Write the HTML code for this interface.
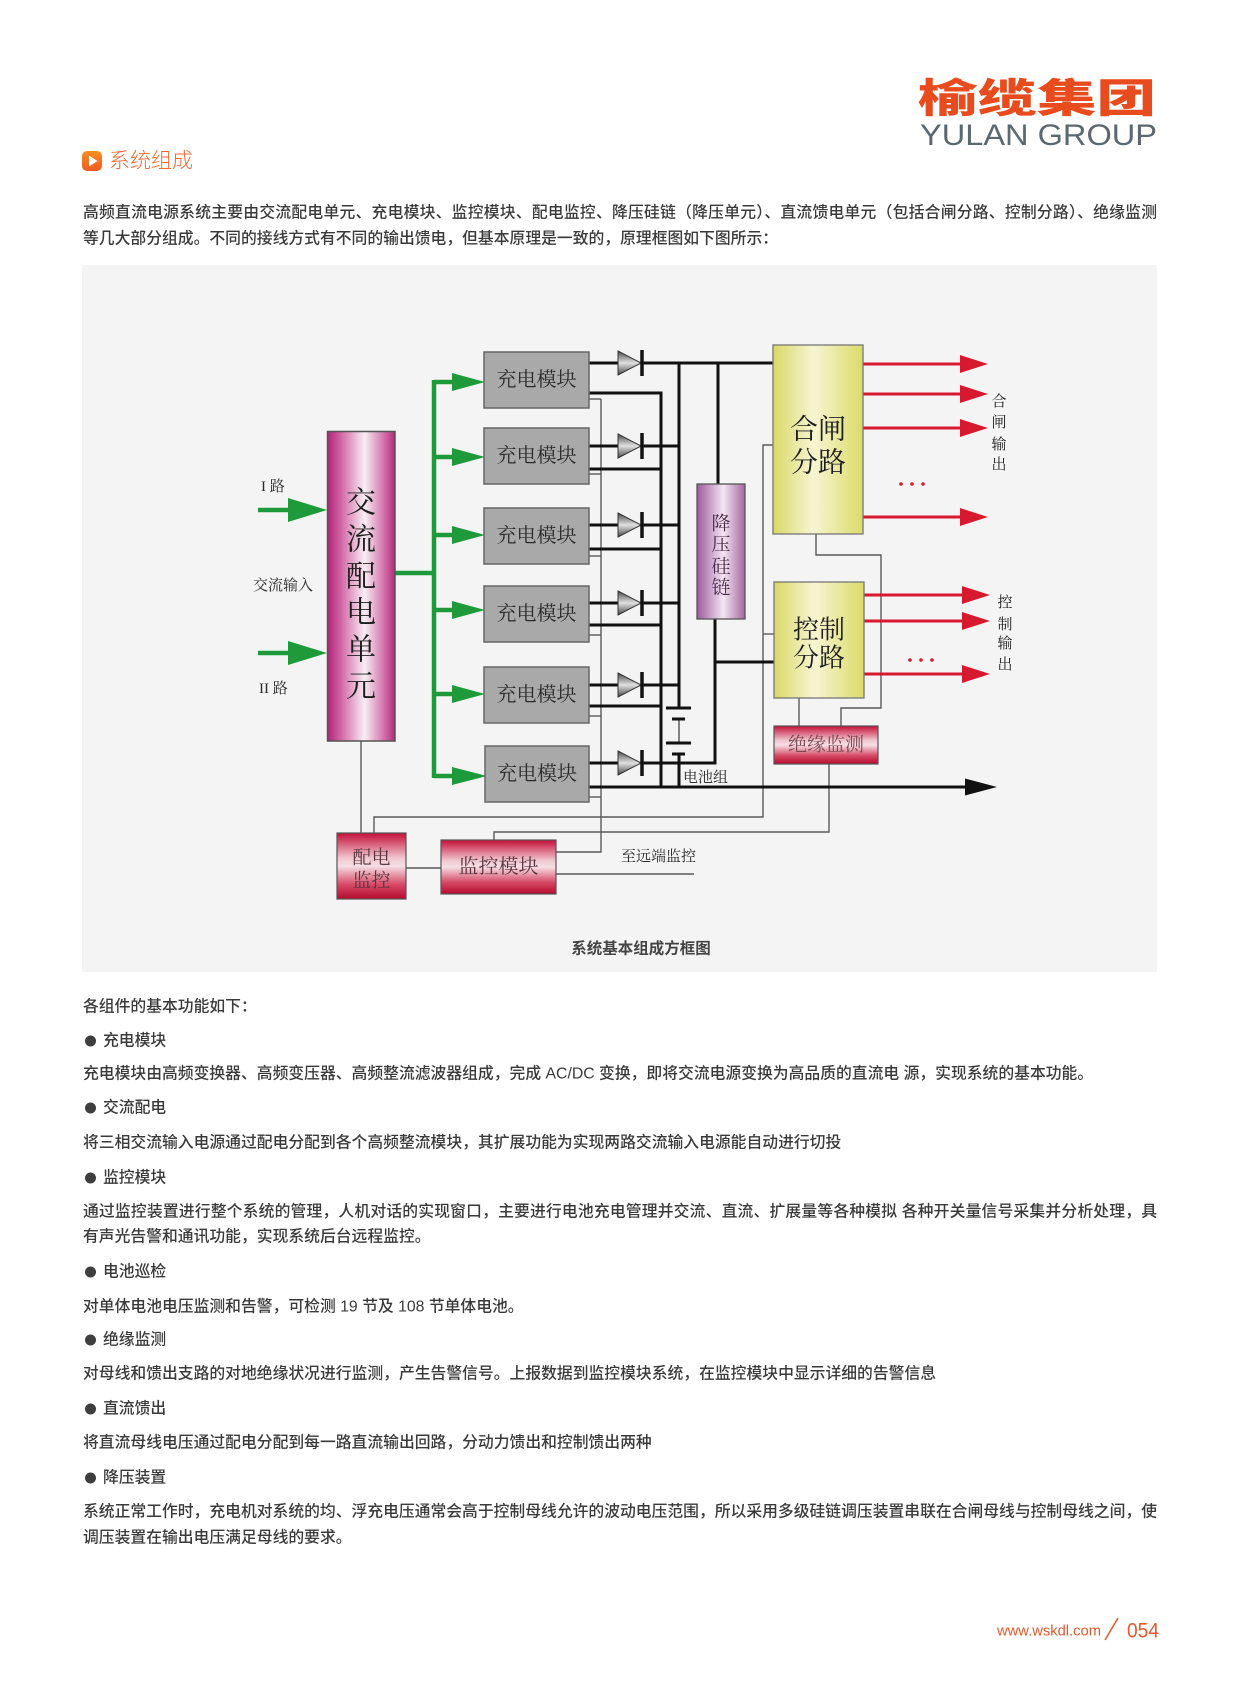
<!DOCTYPE html>
<html><head><meta charset="utf-8">
<style>
html,body{margin:0;padding:0;background:#fff;}
body{width:1241px;height:1684px;overflow:hidden;}
svg{display:block;}
.sans{font-family:"Liberation Sans","Noto Sans CJK SC",sans-serif;}
.serif{font-family:"Liberation Serif","Noto Serif CJK SC",serif;}
.body{font-family:"Liberation Sans","Noto Sans CJK SC",sans-serif;font-size:15.8px;fill:#3a3a3a;font-weight:500;}
</style></head>
<body>
<svg width="1241" height="1684" viewBox="0 0 1241 1684" xmlns="http://www.w3.org/2000/svg">
<defs>
  <linearGradient id="acG" x1="0" y1="0" x2="1" y2="0">
    <stop offset="0" stop-color="#b0257a"/>
    <stop offset="0.18" stop-color="#cf5ea0"/>
    <stop offset="0.55" stop-color="#f8eef4"/>
    <stop offset="0.85" stop-color="#d16aa6"/>
    <stop offset="1" stop-color="#b22b7c"/>
  </linearGradient>
  <linearGradient id="jyG" x1="0" y1="0" x2="1" y2="0">
    <stop offset="0" stop-color="#9c5a9c"/>
    <stop offset="0.55" stop-color="#f3e6f2"/>
    <stop offset="1" stop-color="#a5649f"/>
  </linearGradient>
  <linearGradient id="yG" x1="0" y1="0" x2="1" y2="0">
    <stop offset="0" stop-color="#d9d866"/>
    <stop offset="0.45" stop-color="#f7f5d2"/>
    <stop offset="1" stop-color="#dcdb68"/>
  </linearGradient>
  <linearGradient id="rG" x1="0" y1="0" x2="0" y2="1">
    <stop offset="0" stop-color="#c40f38"/>
    <stop offset="0.38" stop-color="#f1c6cf"/>
    <stop offset="0.5" stop-color="#f5dfe4"/>
    <stop offset="0.78" stop-color="#d64a66"/>
    <stop offset="1" stop-color="#b60a2e"/>
  </linearGradient>
  <linearGradient id="dG" x1="0" y1="0" x2="0" y2="1">
    <stop offset="0" stop-color="#4a4a4a"/>
    <stop offset="0.5" stop-color="#e0e0e0"/>
    <stop offset="1" stop-color="#4a4a4a"/>
  </linearGradient>
  <linearGradient id="oG" x1="0" y1="0" x2="0" y2="1">
    <stop offset="0" stop-color="#f8901e"/>
    <stop offset="1" stop-color="#ee5a24"/>
  </linearGradient>
</defs>

<rect width="1241" height="1684" fill="#ffffff"/>

<!-- Logo -->
<text class="sans" x="918" y="99" font-size="40" font-weight="900" fill="#e84c1e" dominant-baseline="central" textLength="238" lengthAdjust="spacingAndGlyphs">榆缆集团</text>
<text class="sans" x="920" y="145" font-size="30" fill="#5b6870" textLength="237" lengthAdjust="spacingAndGlyphs">YULAN GROUP</text>

<!-- Heading -->
<rect x="82" y="151" width="20" height="20" rx="5" fill="url(#oG)"/>
<polygon points="89,155.5 97.5,161 89,166.5" fill="#fff"/>
<text class="sans" x="109" y="161" font-size="21" font-weight="300" fill="#ef6a33" dominant-baseline="central">系统组成</text>

<!-- Intro paragraph -->
<text class="body" x="83" y="213" dominant-baseline="central" textLength="1074" lengthAdjust="spacing">高频直流电源系统主要由交流配电单元、充电模块、监控模块、配电监控、降压硅链（降压单元）、直流馈电单元（包括合闸分路、控制分路）、绝缘监测</text>
<text class="body" x="83" y="239" dominant-baseline="central">等几大部分组成。不同的接线方式有不同的输出馈电，但基本原理是一致的，原理框图如下图所示：</text>

<!-- Diagram background -->
<rect x="82" y="265" width="1075" height="707" fill="#f4f4f4"/>

<!-- ===== Gray thin lines ===== -->
<g stroke="#5a5a5a" stroke-width="1.4" fill="none">
  <polyline points="589,399 601,399"/>
  <polyline points="589,474 601,474"/>
  <polyline points="589,556 601,556"/>
  <polyline points="589,635 601,635"/>
  <polyline points="589,716 601,716"/>
  <polyline points="589,797 601,797"/>
  <polyline points="601,399 601,852 556,852"/>
  <polyline points="816,534 816,555 881,555 881,708 841,708 841,726"/>
  <polyline points="799,698 799,726"/>
  <polyline points="773,445 763,445 763,817 374,817 374,833"/>
  <polyline points="763,634 774,634"/>
  <polyline points="829,764 829,832 494,832 494,840"/>
  <polyline points="361,741 361,833"/>
  <polyline points="406,868 441,868"/>
  <polyline points="556,874 694,874"/>
</g>

<!-- ===== Green lines / arrows ===== -->
<g stroke="#1f9a3a" stroke-width="4.5" fill="none">
  <line x1="258" y1="510" x2="294" y2="510"/>
  <line x1="258" y1="653" x2="294" y2="653"/>
  <line x1="395" y1="573" x2="436" y2="573"/>
  <line x1="434" y1="380" x2="434" y2="778"/>
  <line x1="434" y1="382" x2="456" y2="382"/>
  <line x1="434" y1="457" x2="456" y2="457"/>
  <line x1="434" y1="535" x2="456" y2="535"/>
  <line x1="434" y1="610" x2="456" y2="610"/>
  <line x1="434" y1="694" x2="456" y2="694"/>
  <line x1="434" y1="776" x2="456" y2="776"/>
</g>
<g fill="#1f9a3a">
  <polygon points="288,498 327,510 288,522"/>
  <polygon points="288,641 327,653 288,665"/>
  <polygon points="452,373 485,382 452,391"/>
  <polygon points="452,448 485,457 452,466"/>
  <polygon points="452,526 485,535 452,544"/>
  <polygon points="452,601 485,610 452,619"/>
  <polygon points="452,685 485,694 452,703"/>
  <polygon points="452,767 487,776 452,785"/>
</g>

<!-- ===== Black lines ===== -->
<g stroke="#111" stroke-width="3" fill="none">
  <line x1="589" y1="363" x2="618" y2="363"/><line x1="642" y1="363" x2="773" y2="363"/>
  <line x1="589" y1="446" x2="618" y2="446"/><line x1="642" y1="446" x2="679" y2="446"/>
  <line x1="589" y1="525" x2="618" y2="525"/><line x1="642" y1="525" x2="679" y2="525"/>
  <line x1="589" y1="603" x2="618" y2="603"/><line x1="642" y1="603" x2="679" y2="603"/>
  <line x1="589" y1="685" x2="618" y2="685"/><line x1="642" y1="685" x2="679" y2="685"/>
  <line x1="589" y1="763" x2="618" y2="763"/><line x1="642" y1="763" x2="716" y2="763"/>
  <line x1="589" y1="393" x2="662" y2="393"/>
  <line x1="589" y1="469" x2="662" y2="469"/>
  <line x1="589" y1="549" x2="662" y2="549"/>
  <line x1="589" y1="625" x2="662" y2="625"/>
  <line x1="589" y1="706" x2="662" y2="706"/>
  <line x1="661" y1="391.5" x2="661" y2="788"/>
  <line x1="679" y1="361.5" x2="679" y2="708"/>
  <line x1="679" y1="754" x2="679" y2="788"/>
  <line x1="718" y1="361.5" x2="718" y2="484"/>
  <line x1="715" y1="619" x2="715" y2="764.5"/>
  <line x1="713.5" y1="662" x2="774" y2="662"/>
  <line x1="666" y1="708" x2="691" y2="708"/>
  <line x1="672" y1="719" x2="685" y2="719"/>
  <line x1="666" y1="743" x2="691" y2="743"/>
  <line x1="672" y1="754" x2="685" y2="754"/>
  <line x1="589" y1="787" x2="970" y2="787"/>
</g>
<line x1="679" y1="719" x2="679" y2="743" stroke="#111" stroke-width="1"/>
<polygon points="965,778.5 997,787 965,795.5" fill="#111"/>

<!-- diodes -->
<g stroke="#333" stroke-width="1" fill="url(#dG)">
  <polygon points="618,351 641,363 618,375"/>
  <polygon points="618,434 641,446 618,458"/>
  <polygon points="618,513 641,525 618,537"/>
  <polygon points="618,591 641,603 618,615"/>
  <polygon points="618,673 641,685 618,697"/>
  <polygon points="618,751 641,763 618,775"/>
</g>
<g stroke="#111" stroke-width="3.5">
  <line x1="642" y1="350" x2="642" y2="376"/>
  <line x1="642" y1="433" x2="642" y2="459"/>
  <line x1="642" y1="512" x2="642" y2="538"/>
  <line x1="642" y1="590" x2="642" y2="616"/>
  <line x1="642" y1="672" x2="642" y2="698"/>
  <line x1="642" y1="750" x2="642" y2="776"/>
</g>

<!-- ===== Red outputs ===== -->
<g stroke="#d7192f" stroke-width="3">
  <line x1="863" y1="364" x2="964" y2="364"/>
  <line x1="863" y1="394" x2="964" y2="394"/>
  <line x1="863" y1="428" x2="964" y2="428"/>
  <line x1="863" y1="517" x2="964" y2="517"/>
  <line x1="864" y1="595" x2="966" y2="595"/>
  <line x1="864" y1="621" x2="966" y2="621"/>
  <line x1="864" y1="674" x2="966" y2="674"/>
</g>
<g fill="#d7192f">
  <polygon points="960,355 988,364 960,373"/>
  <polygon points="960,385 988,394 960,403"/>
  <polygon points="960,419 988,428 960,437"/>
  <polygon points="960,508 988,517 960,526"/>
  <polygon points="962,586 990,595 962,604"/>
  <polygon points="962,612 990,621 962,630"/>
  <polygon points="962,665 990,674 962,683"/>
  <circle cx="901" cy="484" r="1.8"/><circle cx="912" cy="484" r="1.8"/><circle cx="923" cy="484" r="1.8"/>
  <circle cx="910" cy="660" r="1.8"/><circle cx="921" cy="660" r="1.8"/><circle cx="932" cy="660" r="1.8"/>
</g>

<!-- ===== Boxes ===== -->
<rect x="327.5" y="431.5" width="67.5" height="309.5" fill="url(#acG)" stroke="#555" stroke-width="1.5"/>
<g fill="#a9a9a9" stroke="#666" stroke-width="1.5">
  <rect x="484" y="352" width="105" height="56"/>
  <rect x="484" y="428" width="105" height="56"/>
  <rect x="484" y="508" width="105" height="56"/>
  <rect x="484" y="586" width="105" height="56"/>
  <rect x="484" y="667" width="105" height="56"/>
  <rect x="485" y="746" width="104" height="56"/>
</g>
<rect x="697" y="484" width="48" height="135" fill="url(#jyG)" stroke="#555" stroke-width="1.3"/>
<rect x="773" y="345" width="90" height="189" fill="url(#yG)" stroke="#777" stroke-width="1.3"/>
<rect x="774" y="582" width="90" height="116" fill="url(#yG)" stroke="#777" stroke-width="1.3"/>
<rect x="774" y="726" width="104" height="38" fill="url(#rG)" stroke="#555" stroke-width="1.2"/>
<rect x="337" y="833" width="69" height="66" fill="url(#rG)" stroke="#555" stroke-width="1.2"/>
<rect x="441" y="840" width="115" height="54" fill="url(#rG)" stroke="#555" stroke-width="1.2"/>

<!-- ===== Diagram text ===== -->
<g class="serif" fill="#1e1e1e" text-anchor="middle" dominant-baseline="central">
  <text x="361" y="503" font-size="30">交</text>
  <text x="361" y="540" font-size="30">流</text>
  <text x="361" y="577" font-size="30">配</text>
  <text x="361" y="613" font-size="30">电</text>
  <text x="361" y="650" font-size="30">单</text>
  <text x="361" y="687" font-size="30">元</text>

  <text x="536.5" y="380" font-size="20" fill="#2a2a2a">充电模块</text>
  <text x="536.5" y="456" font-size="20" fill="#2a2a2a">充电模块</text>
  <text x="536.5" y="536" font-size="20" fill="#2a2a2a">充电模块</text>
  <text x="536.5" y="614" font-size="20" fill="#2a2a2a">充电模块</text>
  <text x="536.5" y="695" font-size="20" fill="#2a2a2a">充电模块</text>
  <text x="537" y="774" font-size="20" fill="#2a2a2a">充电模块</text>

  <text x="721" y="524" font-size="19" fill="#4a2a4a">降</text>
  <text x="721" y="545" font-size="19" fill="#4a2a4a">压</text>
  <text x="721" y="567" font-size="19" fill="#4a2a4a">硅</text>
  <text x="721" y="588" font-size="19" fill="#4a2a4a">链</text>

  <text x="818" y="430" font-size="28">合闸</text>
  <text x="818" y="463" font-size="28">分路</text>
  <text x="819" y="630" font-size="26">控制</text>
  <text x="819" y="658" font-size="26">分路</text>

  <text x="999" y="402" font-size="15">合</text>
  <text x="999" y="423" font-size="15">闸</text>
  <text x="999" y="445" font-size="15">输</text>
  <text x="999" y="465" font-size="15">出</text>
  <text x="1005" y="603" font-size="15">控</text>
  <text x="1005" y="625" font-size="15">制</text>
  <text x="1005" y="644" font-size="15">输</text>
  <text x="1005" y="665" font-size="15">出</text>

  <text x="826" y="745" font-size="19" fill="#7b4a56">绝缘监测</text>
  <text x="371.5" y="858" font-size="19" fill="#5a3440">配电</text>
  <text x="371.5" y="881" font-size="19" fill="#5a3440">监控</text>
  <text x="498.5" y="867" font-size="20" fill="#5a3440">监控模块</text>
</g>
<g class="serif" fill="#2a2a2a" dominant-baseline="central">
  <text x="261" y="487" font-size="15">I 路</text>
  <text x="253" y="586" font-size="15">交流输入</text>
  <text x="259" y="689" font-size="15">II 路</text>
  <text x="683" y="778" font-size="15">电池组</text>
  <text x="621" y="857" font-size="15">至远端监控</text>
</g>
<text class="sans" x="641" y="949" font-size="15.5" font-weight="700" fill="#444" text-anchor="middle" dominant-baseline="central">系统基本组成方框图</text>

<!-- ===== Lower text ===== -->
<g class="body" dominant-baseline="central">
  <text x="83" y="1007">各组件的基本功能如下：</text>
  <text x="103" y="1041">充电模块</text>
  <text x="83" y="1074">充电模块由高频变换器、高频变压器、高频整流滤波器组成，完成 AC/DC 变换，即将交流电源变换为高品质的直流电 源，实现系统的基本功能。</text>
  <text x="103" y="1108">交流配电</text>
  <text x="83" y="1143">将三相交流输入电源通过配电分配到各个高频整流模块，其扩展功能为实现两路交流输入电源能自动进行切投</text>
  <text x="103" y="1178">监控模块</text>
  <text x="83" y="1212" textLength="1074" lengthAdjust="spacing">通过监控装置进行整个系统的管理，人机对话的实现窗口，主要进行电池充电管理并交流、直流、扩展量等各种模拟 各种开关量信号采集并分析处理，具</text>
  <text x="83" y="1237">有声光告警和通讯功能，实现系统后台远程监控。</text>
  <text x="103" y="1272">电池巡检</text>
  <text x="83" y="1307">对单体电池电压监测和告警，可检测 19 节及 108 节单体电池。</text>
  <text x="103" y="1340">绝缘监测</text>
  <text x="83" y="1374">对母线和馈出支路的对地绝缘状况进行监测，产生告警信号。上报数据到监控模块系统，在监控模块中显示详细的告警信息</text>
  <text x="103" y="1409">直流馈出</text>
  <text x="83" y="1443">将直流母线电压通过配电分配到每一路直流输出回路，分动力馈出和控制馈出两种</text>
  <text x="103" y="1478">降压装置</text>
  <text x="83" y="1512" textLength="1074" lengthAdjust="spacing">系统正常工作时，充电机对系统的均、浮充电压通常会高于控制母线允许的波动电压范围，所以采用多级硅链调压装置串联在合闸母线与控制母线之间，使</text>
  <text x="83" y="1538">调压装置在输出电压满足母线的要求。</text>
</g>
<g fill="#3e3e3e">
  <circle cx="90.5" cy="1041" r="5.5"/>
  <circle cx="90.5" cy="1108" r="5.5"/>
  <circle cx="90.5" cy="1178" r="5.5"/>
  <circle cx="90.5" cy="1272" r="5.5"/>
  <circle cx="90.5" cy="1340" r="5.5"/>
  <circle cx="90.5" cy="1409" r="5.5"/>
  <circle cx="90.5" cy="1478" r="5.5"/>
</g>

<!-- Footer -->
<text class="sans" x="997" y="1631" font-size="15" fill="#e8572a" dominant-baseline="central" textLength="104" lengthAdjust="spacingAndGlyphs">www.wskdl.com</text>
<line x1="1105" y1="1640" x2="1118" y2="1618" stroke="#e8572a" stroke-width="1.5"/>
<text class="sans" x="1127" y="1637.5" font-size="21" fill="#e8572a" textLength="32" lengthAdjust="spacingAndGlyphs">054</text>
</svg>
</body></html>
